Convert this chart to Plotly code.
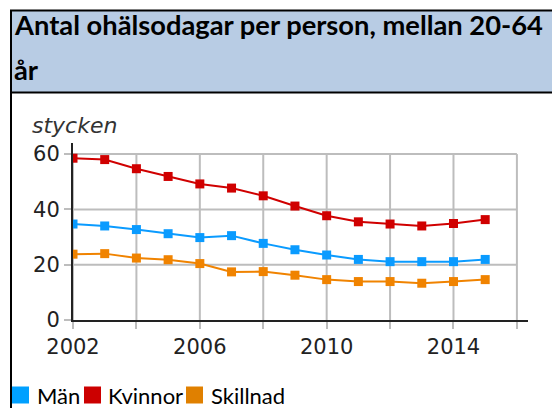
import plotly.graph_objects as go

years = list(range(2002, 2016))
man = [34.7, 34.0, 32.7, 31.2, 29.8, 30.5, 27.7, 25.4, 23.5, 21.9, 21.1, 21.1, 21.1, 21.9]
kvinnor = [58.5, 58.0, 54.7, 51.9, 49.2, 47.7, 44.9, 41.2, 37.7, 35.5, 34.7, 34.0, 34.9, 36.3]
skillnad = [23.8, 24.0, 22.4, 21.8, 20.4, 17.4, 17.5, 16.2, 14.6, 13.9, 13.9, 13.3, 13.9, 14.6]

series_names = ["Män", "Kvinnor", "Skillnad"]
line_colors = ["#0a9bff", "#d00000", "#f08300"]
legend_colors = ["#00a0ff", "#cc0000", "#e08000"]

x_ticks = list(range(2002, 2017, 2))
x_ticktext = ["2002", "", "2006", "", "2010", "", "2014", ""]
y_ticks = [0, 20, 40, 60]

title_line1 = "Antal ohälsodagar per person, mellan 20-64"
title_line2 = "år"
unit_label = "stycken"

W, H = 552, 408
ML, MR, MT, MB = 73, 24, 143, 88
PW, PH = W - ML - MR, H - MT - MB

# legend layout (pixel positions of the key squares and labels)
LEG_SQ_X = [12, 84, 186]
LEG_TXT_X = [37, 108, 211]
LEG_SQ = 17
LEG_CY = 395


def px(xp):
    return (xp - ML) / PW


def py(yp):
    return (H - MB - yp) / PH


fig = go.Figure()

shapes = []
for xv in x_ticks:
    shapes.append(dict(type="line", xref="x", yref="y", x0=xv, x1=xv, y0=0, y1=60,
                       line=dict(color="#bdbdbd", width=2), layer="below"))
for yv in y_ticks[1:]:
    shapes.append(dict(type="line", xref="x", yref="y", x0=2002, x1=2016, y0=yv, y1=yv,
                       line=dict(color="#bdbdbd", width=2), layer="below"))

shapes.append(dict(type="rect", xref="paper", yref="paper",
                   x0=px(11), x1=px(600), y0=py(10.5), y1=py(92.5),
                   fillcolor="#b8cce4", line=dict(color="#000000", width=2), layer="below"))
shapes.append(dict(type="line", xref="paper", yref="paper",
                   x0=px(11), x1=px(11), y0=py(92.5), y1=py(420),
                   line=dict(color="#000000", width=2)))

annotations = [
    dict(text=title_line1, xref="paper", yref="paper", x=px(12), y=py(37),
         xanchor="left", yanchor="bottom", showarrow=False, yshift=-6,
         font=dict(family="Lato", size=27.3, color="#000000", weight="bold")),
    dict(text=title_line2, xref="paper", yref="paper", x=px(12), y=py(82),
         xanchor="left", yanchor="bottom", showarrow=False, yshift=-6,
         font=dict(family="Lato", size=27.3, color="#000000", weight="bold")),
    dict(text="<i>" + unit_label + "</i>", xref="paper", yref="paper", x=px(30), y=py(140),
         xanchor="left", yanchor="bottom", showarrow=False,
         font=dict(family="DejaVu Sans, Verdana, sans-serif", size=22, color="#333333")),
]

# key: coloured squares with series names
for name, col, sx, tx in zip(series_names, legend_colors, LEG_SQ_X, LEG_TXT_X):
    shapes.append(dict(type="rect", xref="paper", yref="paper",
                       x0=px(sx), x1=px(sx + LEG_SQ),
                       y0=py(LEG_CY + LEG_SQ / 2), y1=py(LEG_CY - LEG_SQ / 2),
                       fillcolor=col, line=dict(width=0)))
    annotations.append(dict(text=name, xref="paper", yref="paper", x=px(tx - 2), y=py(LEG_CY),
                            xanchor="left", yanchor="middle", showarrow=False,
                            font=dict(family="Lato", size=22, color="#000000")))

for name, vals, col in zip(series_names, [man, kvinnor, skillnad], line_colors):
    fig.add_trace(go.Scatter(
        x=years, y=vals, mode="lines+markers", name=name,
        showlegend=False,
        line=dict(color=col, width=2),
        marker=dict(symbol="square", size=9, color=col),
    ))

tick_font = dict(family="DejaVu Sans, Verdana, sans-serif", size=21, color="#222222")

fig.update_layout(
    width=W, height=H,
    margin=dict(l=ML, r=MR, t=MT, b=MB, autoexpand=False),
    paper_bgcolor="white", plot_bgcolor="white",
    shapes=shapes,
    annotations=annotations,
    showlegend=False,
    xaxis=dict(range=[2002, 2016.35], tickvals=x_ticks, ticktext=x_ticktext,
               showgrid=False, zeroline=False, showline=True, linecolor="#222222", linewidth=2,
               ticks="outside", ticklen=7, tickwidth=2, tickcolor="#bdbdbd",
               tickfont=tick_font),
    yaxis=dict(range=[0, 64], tickvals=y_ticks,
               showgrid=False, zeroline=False, showline=True, linecolor="#222222", linewidth=2,
               ticks="outside", ticklen=7, tickwidth=2, tickcolor="#bdbdbd",
               tickfont=tick_font),
)

fig.write_html("out.html", config={"displayModeBar": False},
               post_script="document.body.style.margin='0';document.body.style.overflow='hidden';")
